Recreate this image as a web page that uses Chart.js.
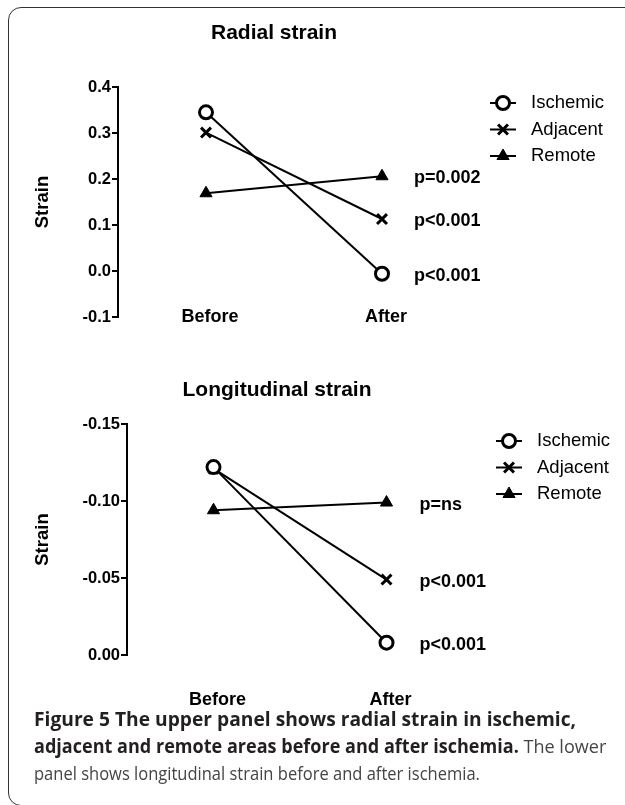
<!DOCTYPE html>
<html><head><meta charset="utf-8">
<script src="https://cdn.jsdelivr.net/npm/chart.js@4.4.0/dist/chart.umd.min.js"></script>
<style>
html,body{margin:0;padding:0;background:#fff;}
body{width:625px;height:805px;position:relative;overflow:hidden;}
#frame{position:absolute;left:8px;top:7px;width:700px;height:797px;border:1.5px solid #333;border-radius:13px;}
#w1{position:absolute;left:0;top:0;width:625px;height:340px;}
#w2{position:absolute;left:0;top:360px;width:625px;height:360px;}
.cap{position:absolute;left:34px;height:24px;line-height:24px;white-space:nowrap;font-family:"Open Sans";font-size:19px;color:#444;transform-origin:0 50%;}
.cap b{color:#231f20;font-weight:700;}
</style></head>
<body>
<div id="frame"></div>
<div id="w1"><canvas id="c1"></canvas></div>
<div id="w2"><canvas id="c2"></canvas></div>
<div class="cap" id="l1" data-w="542" style="top:707px"><b>Figure 5 The upper panel shows radial strain in ischemic,</b></div>
<div class="cap" id="l2" data-w="572" style="top:734px"><b>adjacent and remote areas before and after ischemia.</b> The lower</div>
<div class="cap" id="l3" data-w="446" style="top:761px">panel shows longitudinal strain before and after ischemia.</div>
<script>
// ---- data ----
const categories = ['Before', 'After'];
const seriesNames = ['Ischemic', 'Adjacent', 'Remote'];

const radialIschemic = [0.345, -0.006];
const radialAdjacent = [0.301, 0.113];
const radialRemote   = [0.169, 0.206];
const radialP = ['p<0.001', 'p<0.001', 'p=0.002'];
const radialTicks = [-0.1, 0.0, 0.1, 0.2, 0.3, 0.4];

const longIschemic = [-0.122, -0.008];
const longAdjacent = [-0.121, -0.049];
const longRemote   = [-0.094, -0.099];
const longP = ['p<0.001', 'p<0.001', 'p=ns'];
const longTicks = [-0.15, -0.10, -0.05, 0.00];

const FONT = '"Liberation Sans", Arial, sans-serif';

const annot = {
  id: 'annot',
  afterDraw(chart, args, o) {
    const ctx = chart.ctx;
    ctx.save();
    ctx.fillStyle = '#000';
    ctx.textBaseline = 'middle';
    // title
    ctx.font = 'bold 21px ' + FONT;
    ctx.textAlign = 'center';
    ctx.fillText(o.title, o.titleX, o.titleY);
    // category labels from the x scale
    const xs = chart.scales.x;
    ctx.font = 'bold 18px ' + FONT;
    chart.data.labels.forEach((lab, i) => {
      ctx.fillText(lab, xs.getPixelForTick(i) + o.catDx, o.catY);
    });
    // p labels next to last point
    ctx.textAlign = 'left';
    chart.data.datasets.forEach((ds, i) => {
      const meta = chart.getDatasetMeta(i);
      const pt = meta.data[meta.data.length - 1];
      ctx.fillStyle = '#000';
      ctx.fillText(o.pLabels[i], pt.x + o.pDx, pt.y + o.pDy);
    });
    // legend
    ctx.font = '18.5px ' + FONT;
    chart.data.datasets.forEach((ds, i) => {
      const y = o.legY + i * o.legGap;
      ctx.strokeStyle = '#000';
      ctx.lineWidth = 2;
      ctx.beginPath(); ctx.moveTo(o.legX - 13, y); ctx.lineTo(o.legX + 13, y); ctx.stroke();
      ctx.fillStyle = ds.pointBackgroundColor;
      ctx.strokeStyle = ds.pointBorderColor;
      ctx.lineWidth = ds.pointBorderWidth;
      Chart.helpers.drawPoint(ctx, {pointStyle: ds.pointStyle, radius: ds.pointRadius, borderWidth: ds.pointBorderWidth, rotation: 0}, o.legX, y);
      ctx.fillStyle = '#000';
      ctx.fillText(ds.label, o.legX + 28, y);
    });
    ctx.restore();
  }
};

function makeDatasets(vals) {
  const styles = [
    {pointStyle: 'circle', pointRadius: 6.5, pointBorderWidth: 3, pointBackgroundColor: '#fff'},
    {pointStyle: 'crossRot', pointRadius: 7, pointBorderWidth: 3, pointBackgroundColor: '#000'},
    {pointStyle: 'triangle', pointRadius: 7, pointBorderWidth: 1, pointBackgroundColor: '#000'}
  ];
  return vals.map((v, i) => Object.assign({
    label: seriesNames[i], data: v, borderColor: '#000', borderWidth: 2,
    pointBorderColor: '#000', tension: 0, clip: false
  }, styles[i]));
}

function makeOptions(c) {
  return {
    responsive: true, maintainAspectRatio: false, animation: false, events: [],
    layout: {padding: {left: 0, top: c.top, right: c.right, bottom: c.bottom}},
    plugins: {legend: {display: false}, tooltip: {enabled: false}, annot: c.annot},
    scales: {
      x: {
        type: 'category', offset: true,
        grid: {display: false, drawTicks: false}, border: {display: false},
        ticks: {display: false},
        afterFit(s) { s.height = 0; }
      },
      y: {
        min: c.min, max: c.max, reverse: c.reverse,
        afterBuildTicks(s) { s.ticks = c.ticks.map(v => ({value: v})); },
        ticks: {color: '#000', font: {family: FONT, size: 16.5, weight: 'bold'}, padding: 1, callback: v => Number(v).toFixed(c.dec)},
        grid: {drawOnChartArea: false, drawTicks: true, tickLength: 6, color: '#000', lineWidth: 2},
        border: {display: true, color: '#000', width: 2},
        title: {display: true, text: 'Strain', color: '#000', font: {family: FONT, size: 18.5, weight: 'bold'}, padding: {top: 32, bottom: 0}},
        afterFit(s) { s.width = c.axisX; }
      }
    }
  };
}

new Chart(document.getElementById('c1'), {
  type: 'line',
  data: {labels: categories, datasets: makeDatasets([radialIschemic, radialAdjacent, radialRemote])},
  options: makeOptions({
    top: 87, bottom: 23, right: 155, axisX: 118,
    min: -0.1, max: 0.4, reverse: false, ticks: radialTicks, dec: 1,
    annot: {title: 'Radial strain', titleX: 274, titleY: 33, catY: 317, catDx: 4, pLabels: radialP, pDx: 32, pDy: 2, legX: 503, legY: 103, legGap: 26.5}
  }),
  plugins: [annot]
});

new Chart(document.getElementById('c2'), {
  type: 'line',
  data: {labels: categories, datasets: makeDatasets([longIschemic, longAdjacent, longRemote])},
  options: makeOptions({
    top: 64, bottom: 65, right: 152, axisX: 127,
    min: -0.15, max: 0, reverse: true, ticks: longTicks, dec: 2,
    annot: {title: 'Longitudinal strain', titleX: 277, titleY: 30, catY: 340, catDx: 4, pLabels: longP, pDx: 33, pDy: 2, legX: 509, legY: 81, legGap: 26.5}
  }),
  plugins: [annot]
});

document.querySelectorAll('.cap').forEach(el => {
  const w = el.scrollWidth;
  const t = +el.dataset.w;
  el.style.transform = 'scaleX(' + (t / w) + ')';
});
</script>
</body></html>
